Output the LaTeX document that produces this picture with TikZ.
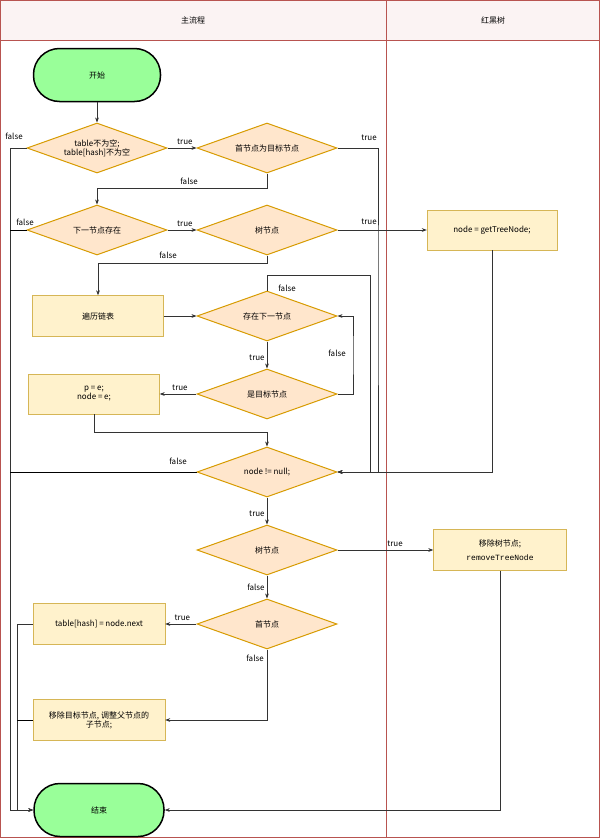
\documentclass[tikz,border=0pt]{standalone}
\usepackage{fontspec}
\setmainfont{Noto Sans CJK SC}
\newfontfamily\monofont{Liberation Mono}
\usetikzlibrary{arrows.meta,shapes.geometric}
\definecolor{dfill}{HTML}{FFE6CC}
\definecolor{ddraw}{HTML}{D79B00}
\definecolor{rfill}{HTML}{FFF2CC}
\definecolor{rdraw}{HTML}{D6B656}
\definecolor{lane}{HTML}{B85450}
\definecolor{hfill}{HTML}{FBF3F3}
\definecolor{term}{HTML}{99FF99}
\tikzset{
  dec/.style={diamond,aspect=2.8,draw=ddraw,fill=dfill,line width=1pt,minimum width=140pt,minimum height=50pt,inner sep=0pt,font=\fontsize{8}{9}\selectfont,align=center},
  box/.style={rectangle,draw=rdraw,fill=rfill,minimum width=131pt,minimum height=41pt,font=\fontsize{8}{9}\selectfont,align=center},
  term/.style={rectangle,rounded corners=26pt,draw=black,fill=term,line width=1.5pt,minimum width=127pt,minimum height=53pt,font=\fontsize{8}{9}\selectfont},
  arr/.style={-{Stealth[length=5pt]},line width=0.7pt,draw=black!80},
  lbl/.style={font=\fontsize{8}{9}\selectfont,inner sep=1pt}
}
\begin{document}
\begin{tikzpicture}[x=1pt,y=-1pt]
\useasboundingbox (0,0) rectangle (600,838);
% lanes
\draw[lane,fill=hfill] (0.5,0.5) rectangle (599.5,40);
\draw[lane] (0.5,0.5) rectangle (599.5,837.5);
\draw[lane] (386,0.5) -- (386,837.5);
\node[lbl] (h1) at (193,20) {主流程};
\node[lbl] (h2) at (493,20) {红黑树};
% nodes
\node[term] (start) at (97,75) {开始};
\node[dec] (d1) at (97,148) {table不为空;\\table[hash]不为空};
\node[dec] (d2) at (267,148) {首节点为目标节点};
\node[dec] (d3) at (97,230) {下一节点存在};
\node[dec] (d4) at (267,230) {树节点};
\node[box,minimum width=130pt,minimum height=40pt] (r1) at (492,230) {node = getTreeNode;};
\node[box] (r2) at (98,316) {遍历链表};
\node[dec] (d5) at (267,316) {存在下一节点};
\node[dec] (d6) at (267,394) {是目标节点};
\node[box,minimum height=40pt] (r3) at (94,394) {p = e;\\node = e;};
\node[dec] (d7) at (267,472) {node != null;};
\node[dec] (d8) at (267,550) {树节点};
\node[box,minimum width=133pt] (r4) at (500,550) {移除树节点;\\[5pt]{\monofont removeTreeNode}};
\node[dec] (d9) at (267,624) {首节点};
\node[box,minimum width=132pt] (r5) at (99,624) {table[hash] = node.next};
\node[box,minimum width=132pt] (r6) at (99,720) {移除目标节点, 调整父节点的\\子节点;};
\node[term,minimum width=130pt] (end) at (99,810) {结束};
\coordinate (cl1) at (10,148);
\coordinate (cl2) at (17,624);
% connectors
\draw[arr] (start) -- (d1);
\draw[arr] (d1.west) -- (cl1) -- (cl1 |- end.west) -- (end.west);
\node[lbl] at (14,136) {false};
\draw[arr] (d1) -- node[lbl,above=2pt,pos=0.6]{true} (d2);
\draw[arr] (d2.east) -| (378,300) |- (d7.east);
\node[lbl] at (369,138) {true};
\draw[arr] (d2.south) |- (97,188) -- (d3.north);
\node[lbl] at (189,181) {false};
\draw (d3.west) -- (cl1 |- d3.west);
\node[lbl] at (25,222) {false};
\draw[arr] (d3) -- node[lbl,above=2pt,pos=0.6]{true} (d4);
\draw[arr] (d4) -- (r1);
\node[lbl] at (369,222) {true};
\draw[arr] (d4.south) |- (98,263) -- (r2.north);
\node[lbl] at (168,255) {false};
\draw[arr] (r2) -- (d5);
\draw[arr] (d5.north) |- (370,275) |- (d7.east);
\node[lbl] at (287,288) {false};
\draw[arr] (d5) -- node[lbl,left=1pt,pos=0.6]{true} (d6);
\draw[arr] (d6.east) -| (353,355) |- (d5.east);
\node[lbl] at (337,353) {false};
\draw[arr] (d6) -- node[lbl,above=2pt,pos=0.45]{true} (r3);
\draw[arr] (r3.south) |- (267,432) -- (d7.north);
\draw[arr] (r1.south) |- (d7.east);
\draw (d7.west) -- (cl1 |- d7.west);
\node[lbl] at (178,461) {false};
\draw[arr] (d7) -- node[lbl,left=1pt,pos=0.6]{true} (d8);
\draw[arr] (d8) -- node[lbl,above=2pt,pos=0.6]{true} (r4);
\draw[arr] (d8) -- node[lbl,left=1pt,pos=0.5]{false} (d9);
\draw[arr] (d9) -- node[lbl,above=2pt,pos=0.45]{true} (r5);
\draw[arr] (d9.south) |- (r6.east);
\node[lbl] at (255,658) {false};
\draw[arr] (r5.west) -- (cl2) -- (cl2 |- end.west) -- (end.west);
\draw (r6.west) -- (cl2 |- r6.west);
\draw[arr] (r4.south) |- (end.east);
\end{tikzpicture}
\end{document}
